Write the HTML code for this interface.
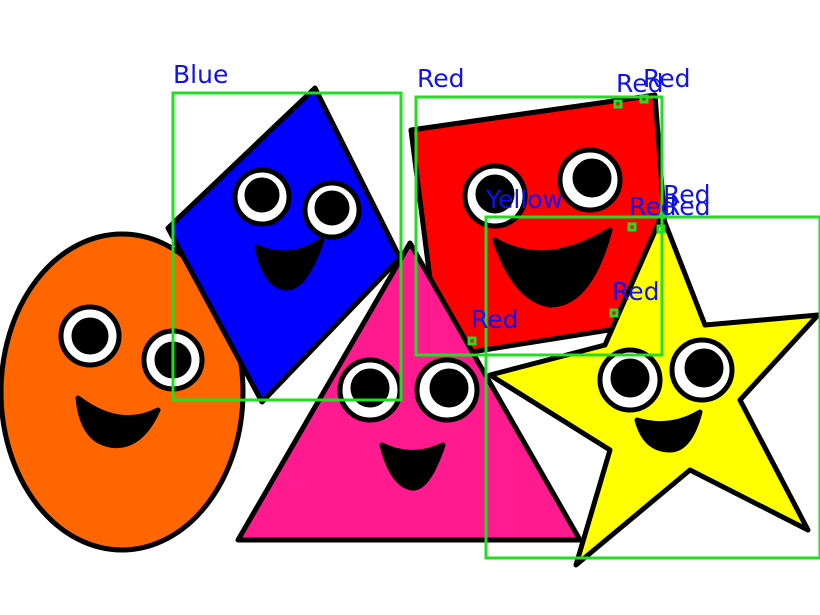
<!DOCTYPE html>
<html><head><meta charset="utf-8"><style>
html,body{margin:0;padding:0;background:#fff;width:820px;height:615px;overflow:hidden}
svg{display:block}
text{font-family:"DejaVu Sans","Liberation Sans",sans-serif;font-size:25px;fill:#1010f0}
</style></head><body>
<svg width="820" height="615" viewBox="0 0 820 615">
<g stroke="#000" stroke-width="5" stroke-linejoin="round">
 <g>
  <ellipse cx="122" cy="392" rx="121" ry="158" fill="#ff6600"/>
  <circle cx="90" cy="336" r="29" fill="#fff"/><circle cx="90" cy="336" r="16" fill="#000"/>
  <circle cx="173" cy="360" r="29" fill="#fff"/><circle cx="173" cy="360" r="16" fill="#000"/>
  <path d="M78 398 Q120 430 158 410 Q140 450 110 445 Q82 440 78 398Z" fill="#000"/>
 </g>
 <g>
  <polygon points="315,88 400,258 262,402 168,228" fill="#0000ff"/>
  <circle cx="262" cy="197" r="27" fill="#fff"/><circle cx="262" cy="195" r="15" fill="#000"/>
  <circle cx="332" cy="210" r="27" fill="#fff"/><circle cx="332" cy="208" r="15" fill="#000"/>
  <path d="M257 247 Q290 262 322 240 Q305 290 285 288 Q265 285 257 247Z" fill="#000"/>
 </g>
 <g>
  <polygon points="411,130 655,95 672,320 440,357" fill="#ff0000"/>
  <circle cx="495" cy="196" r="30" fill="#fff"/><circle cx="495" cy="194" r="17" fill="#000"/>
  <circle cx="590" cy="180" r="30" fill="#fff"/><circle cx="592" cy="178" r="17" fill="#000"/>
  <path d="M495 240 Q545 270 610 230 Q590 305 550 305 Q515 300 495 240Z" fill="#000"/>
 </g>
 <g>
  <polygon points="410,243 580,540 238,540" fill="#ff1a90"/>
  <circle cx="370" cy="390" r="30" fill="#fff"/><circle cx="370" cy="388" r="17" fill="#000"/>
  <circle cx="447" cy="390" r="30" fill="#fff"/><circle cx="449" cy="388" r="17" fill="#000"/>
  <path d="M382 445 Q412 460 443 445 Q428 490 412 488 Q392 485 382 445Z" fill="#000"/>
 </g>
 <g>
  <polygon points="662,215 705,325 818,315 740,400 808,530 690,470 576,565 610,450 490,375 605,345" fill="#ffff00"/>
  <circle cx="630" cy="380" r="30" fill="#fff"/><circle cx="630" cy="378" r="17" fill="#000"/>
  <circle cx="702" cy="370" r="30" fill="#fff"/><circle cx="704" cy="368" r="17" fill="#000"/>
  <path d="M637 420 Q670 430 700 412 Q690 450 670 450 Q645 450 637 420Z" fill="#000"/>
 </g>
</g>
<g fill="none" stroke="#22dd22" stroke-width="3">
 <rect x="173" y="93" width="228" height="307"/>
 <rect x="416" y="97" width="246" height="258"/>
 <rect x="486" y="217" width="334" height="341"/>
 <rect x="615" y="101" width="6" height="6"/>
 <rect x="641" y="96" width="6" height="6"/>
 <rect x="629" y="224" width="6" height="6"/>
 <rect x="658" y="226" width="6" height="6"/>
 <rect x="611" y="310" width="6" height="6"/>
 <rect x="469" y="338" width="6" height="6"/>
</g>
<circle cx="663" cy="215" r="4" fill="#22dd22"/>
<text x="173" y="83">Blue</text>
<text x="417" y="87">Red</text>
<text x="486" y="208">Yellow</text>
<text x="616" y="92">Red</text>
<text x="643" y="87">Red</text>
<text x="629" y="215">Red</text>
<text x="663" y="203">Red</text>
<text x="663" y="215">Red</text>
<text x="612" y="300">Red</text>
<text x="471" y="328">Red</text>
</svg>
</body></html>
